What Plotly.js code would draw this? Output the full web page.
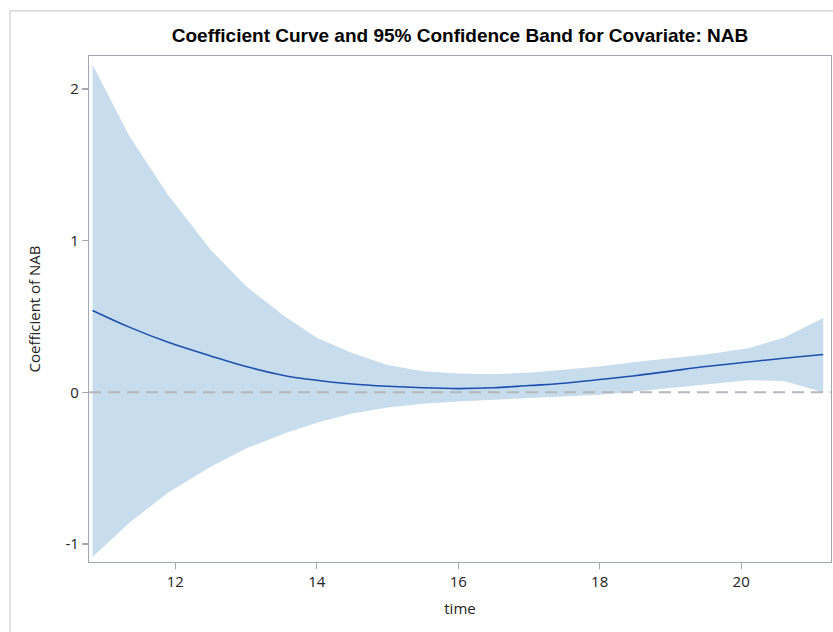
<!DOCTYPE html>
<html>
<head>
<meta charset="utf-8">
<script src="https://cdn.plot.ly/plotly-3.0.1.min.js"></script>
<style>html,body{margin:0;padding:0;background:#fff;}#chart{width:833px;height:632px;}</style>
</head>
<body>
<div id="chart"></div>
<script>
var time = [10.83, 11.35, 11.9, 12.5, 13.0, 13.55, 14.0, 14.5, 15.0, 15.5, 16.0, 16.5, 17.0, 17.5, 18.0, 18.5, 19.0, 19.5, 20.1, 20.6, 21.16];
var coef = [0.54, 0.43, 0.33, 0.24, 0.17, 0.11, 0.08, 0.055, 0.04, 0.03, 0.025, 0.03, 0.045, 0.06, 0.085, 0.11, 0.14, 0.17, 0.20, 0.225, 0.25];
var upper = [2.16, 1.69, 1.30, 0.94, 0.70, 0.50, 0.36, 0.26, 0.18, 0.14, 0.125, 0.12, 0.13, 0.15, 0.17, 0.20, 0.225, 0.25, 0.29, 0.36, 0.49];
var lower = [-1.085, -0.86, -0.66, -0.49, -0.37, -0.27, -0.20, -0.14, -0.10, -0.075, -0.06, -0.05, -0.04, -0.03, -0.015, 0.005, 0.03, 0.055, 0.08, 0.075, 0.0];
var xTicks = [12, 14, 16, 18, 20];
var yTicks = [-1, 0, 1, 2];
var refValue = 0;

var traces = [
  {x: time, y: lower, mode: 'lines', line: {width: 0, color: 'rgba(0,0,0,0)'}, hoverinfo: 'skip', showlegend: false},
  {x: time, y: upper, mode: 'lines', fill: 'tonexty', fillcolor: '#c7dcec', line: {width: 0, color: 'rgba(0,0,0,0)'}, hoverinfo: 'skip', showlegend: false},
  {x: time, y: coef, mode: 'lines', line: {color: '#1f4fb0', width: 1.6, shape: 'spline'}, showlegend: false}
];

var tickFont = {family: 'Open Sans, Noto Sans, sans-serif', size: 15, color: '#222'};
var axisCommon = {
  showgrid: false, zeroline: false, showline: true, mirror: true,
  linecolor: '#a3a8ae', linewidth: 1.2,
  ticks: 'outside', ticklen: 6, tickwidth: 1.2, tickcolor: '#a3a8ae',
  tickfont: tickFont
};

var layout = {
  width: 833, height: 632,
  margin: {l: 89, r: 2, t: 56, b: 70},
  paper_bgcolor: '#fff', plot_bgcolor: '#fff',
  title: {text: '<b>Coefficient Curve and 95% Confidence Band for Covariate: NAB</b>',
          font: {family: 'Liberation Sans, Arial, sans-serif', size: 19, color: '#000'},
          x: 0.5, xref: 'paper', xanchor: 'center', y: 1, yref: 'container', yanchor: 'top', pad: {t: 29}},
  xaxis: Object.assign({}, axisCommon, {
    range: [10.78, 21.27], tickvals: xTicks, ticktext: xTicks.map(String),
    title: {text: 'time', font: {family: 'Open Sans, Noto Sans, sans-serif', size: 15, color: '#222'}, standoff: 13}
  }),
  yaxis: Object.assign({}, axisCommon, {
    range: [-1.118, 2.217], tickvals: yTicks, ticktext: yTicks.map(String),
    title: {text: 'Coefficient of NAB', font: {family: 'Open Sans, Noto Sans, sans-serif', size: 15, color: '#222'}, standoff: 21}
  }),
  shapes: [
    {type: 'line', xref: 'paper', x0: 0, x1: 1, yref: 'y', y0: refValue, y1: refValue,
     line: {color: '#b4b8bc', width: 2, dash: '12px,7px'}, layer: 'above'},
    {type: 'rect', xref: 'paper', yref: 'paper', x0: -0.1065, x1: 1.2, y0: -0.3, y1: 1.089,
     line: {color: '#d0d0d0', width: 1.2}, fillcolor: 'rgba(0,0,0,0)', layer: 'below'}
  ]
};

Plotly.newPlot('chart', traces, layout, {displayModeBar: false, staticPlot: true});
</script>
</body>
</html>
